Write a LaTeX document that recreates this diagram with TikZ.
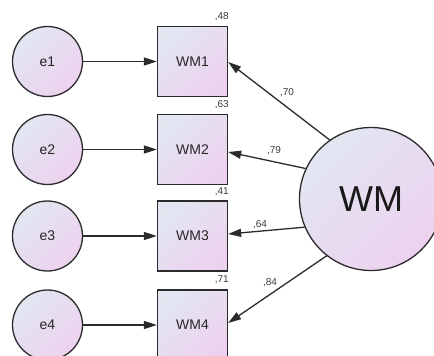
\documentclass[tikz,border=0pt]{standalone}
\usepackage{fontspec}
\setmainfont{Liberation Sans}
\usetikzlibrary{arrows.meta}
\definecolor{fillA}{HTML}{E2E6F1}
\definecolor{fillB}{HTML}{EDD2EF}
\definecolor{edge}{HTML}{2B2B2B}
\definecolor{lbl}{HTML}{3A3A3A}
\tikzset{
  shade/.style={shading=axis, top color=fillA, bottom color=fillB, shading angle=45},
  errvar/.style={circle, draw=edge, line width=1.3pt, shade, minimum size=70pt,
                 inner sep=0pt, font=\fontsize{14}{16}\selectfont, text=black!85},
  obsvar/.style={rectangle, draw=edge, line width=1.3pt, shade, minimum size=70pt,
                 inner sep=0pt, font=\fontsize{14}{16}\selectfont, text=black!85},
  latvar/.style={circle, draw=edge, line width=1.3pt, shade, minimum size=143pt,
                 inner sep=0pt, font=\fontsize{36}{40}\selectfont, text=black!90},
  path/.style={draw=edge, line width=1.3pt, -{Triangle[length=13pt,width=8pt]}},
  est/.style={font=\fontsize{10}{12}\selectfont, text=lbl, inner sep=0pt}
}
\begin{document}
\begin{tikzpicture}[x=1pt, y=-1pt]
  \useasboundingbox (0,0) rectangle (434,356);
  \clip (0,0) rectangle (434,356);

  % latent factor
  \node[latvar] (wm) at (371,199) {WM};

  % indicators and their error terms
  \foreach \i/\yy in {1/61.5, 2/149.5, 3/236, 4/325} {
    \node[errvar] (e\i) at (47.5,\yy) {e\i};
    \node[obsvar] (m\i) at (192.5,\yy) {WM\i};
    \draw[path] (e\i) -- (m\i);
  }

  % squared multiple correlations
  \node[est, anchor=east] (r1) at (229,17) {,48};
  \node[est, anchor=east] (r2) at (229,105) {,63};
  \node[est, anchor=east] (r3) at (229,192) {,41};
  \node[est, anchor=east] (r4) at (229,280) {,71};

  % standardized loadings
  \draw[path] (wm.125.4) -- ([yshift=-0.5pt]m1.east);
  \draw[path] (wm.155.6) -- ([yshift=-2.5pt]m2.east);
  \draw[path] (wm.203.7) -- ([yshift=2pt]m3.east);
  \draw[path] (wm.232.8) -- ([yshift=2pt]m4.east);

  \node[est] (l1) at (287,93) {,70};
  \node[est] (l2) at (274,151) {,79};
  \node[est] (l3) at (260,225) {,64};
  \node[est] (l4) at (270,283) {,84};
\end{tikzpicture}
\end{document}
